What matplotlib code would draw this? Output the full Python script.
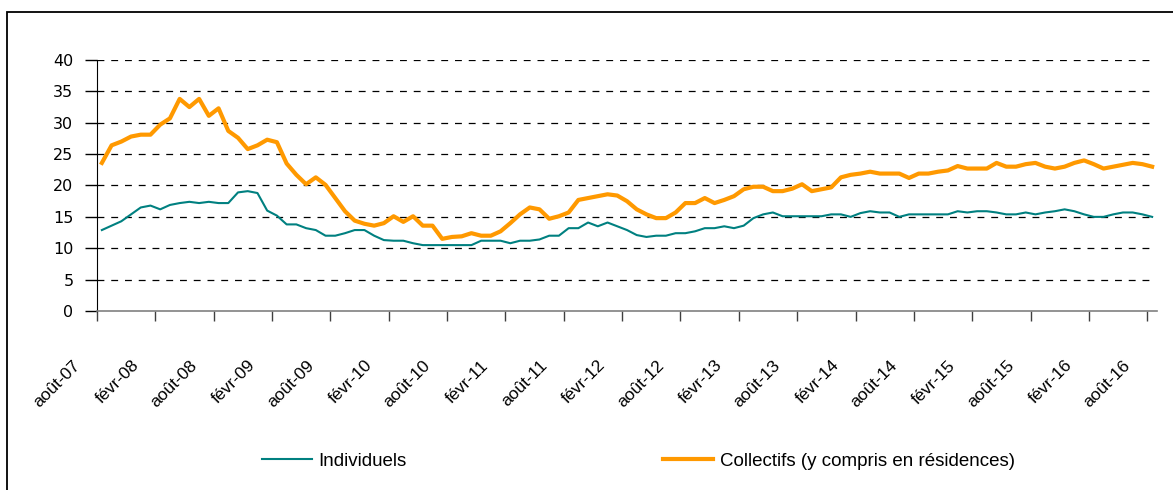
import matplotlib
matplotlib.use("Agg")
import matplotlib.pyplot as plt
from matplotlib.patches import Rectangle
from matplotlib.transforms import ScaledTranslation, blended_transform_factory

# monthly values, août-07 .. août-16
individuels = [
    12.9, 13.6, 14.3, 15.4, 16.5, 16.8, 16.2, 16.9, 17.2, 17.4,
    17.2, 17.4, 17.2, 17.2, 18.9, 19.1, 18.8, 16.0, 15.2, 13.8,
    13.8, 13.2, 12.9, 12.0, 12.0, 12.4, 12.9, 12.9, 12.0, 11.3,
    11.2, 11.2, 10.8, 10.5, 10.5, 10.5, 10.5, 10.5, 10.5, 11.2,
    11.2, 11.2, 10.8, 11.2, 11.2, 11.4, 12.0, 12.0, 13.2, 13.2,
    14.1, 13.5, 14.1, 13.5, 12.9, 12.1, 11.8, 12.0, 12.0, 12.4,
    12.4, 12.7, 13.2, 13.2, 13.5, 13.2, 13.6, 14.8, 15.4, 15.7,
    15.1, 15.1, 15.1, 15.1, 15.1, 15.4, 15.4, 15.0, 15.6, 15.9,
    15.7, 15.7, 15.0, 15.4, 15.4, 15.4, 15.4, 15.4, 15.9, 15.7,
    15.9, 15.9, 15.7, 15.4, 15.4, 15.7, 15.4, 15.7, 15.9, 16.2,
    15.9, 15.4, 15.0, 15.0, 15.4, 15.7, 15.7, 15.4, 15.0,
]
collectifs = [
    23.6, 26.4, 27.0, 27.8, 28.1, 28.1, 29.7, 30.7, 33.8, 32.5,
    33.8, 31.1, 32.3, 28.7, 27.6, 25.8, 26.4, 27.3, 26.9, 23.5,
    21.7, 20.2, 21.3, 20.1, 18.0, 15.9, 14.4, 13.9, 13.6, 14.0,
    15.1, 14.2, 15.1, 13.6, 13.6, 11.5, 11.8, 11.9, 12.4, 12.0,
    12.0, 12.7, 14.0, 15.4, 16.5, 16.2, 14.7, 15.1, 15.7, 17.7,
    18.0, 18.3, 18.6, 18.4, 17.5, 16.2, 15.4, 14.8, 14.8, 15.7,
    17.2, 17.2, 18.0, 17.2, 17.7, 18.3, 19.4, 19.8, 19.8, 19.1,
    19.1, 19.5, 20.2, 19.1, 19.4, 19.7, 21.3, 21.7, 21.9, 22.2,
    21.9, 21.9, 21.9, 21.2, 21.9, 21.9, 22.2, 22.4, 23.1, 22.7,
    22.7, 22.7, 23.6, 23.0, 23.0, 23.4, 23.6, 23.0, 22.7, 23.0,
    23.6, 24.0, 23.4, 22.7, 23.0, 23.3, 23.6, 23.4, 23.0,
]
tick_labels = [
    "août-07", "févr-08", "août-08", "févr-09", "août-09", "févr-10",
    "août-10", "févr-11", "août-11", "févr-12", "août-12", "févr-13",
    "août-13", "févr-14", "août-14", "févr-15", "août-15", "févr-16",
    "août-16",
]
yticks = [0, 5, 10, 15, 20, 25, 30, 35, 40]

W, H = 1173, 490
fig = plt.figure(figsize=(W / 100, H / 100), dpi=100)
ax = fig.add_axes([97 / W, 1 - 311 / H, (1157 - 97) / W, (311 - 60) / H])

n = len(collectifs)
x = range(n)
ax.plot(x, individuels, color="#008080", lw=1.5, label="Individuels", zorder=3)
ax.plot(x, collectifs, color="#FF9900", lw=3.0,
        label="Collectifs (y compris en résidences)", zorder=4)

ax.set_xlim(-0.5, n - 0.5)
ax.set_ylim(0, 40)
ax.set_yticks(yticks)
ax.set_yticklabels([str(v) for v in yticks], fontsize=11.5, family="DejaVu Sans")

for v in yticks[1:]:
    ax.plot([-0.5, n - 1], [v, v], color="black", lw=0.9,
            dashes=(5.5, 5.5), zorder=1)

# x labels drawn by hand, Excel puts them below and left of the tick
xt = [-0.5 + 6 * k for k in range(len(tick_labels))]
ax.set_xticks(xt)
ax.set_xticklabels([])
trans = blended_transform_factory(ax.transData, ax.transAxes) + \
    ScaledTranslation(-19 / 100, -52 / 100, fig.dpi_scale_trans)
for xv, lab in zip(xt, tick_labels):
    ax.text(xv, 0, lab, transform=trans, rotation=45, ha="right", va="center",
            rotation_mode="anchor", fontsize=12.5, family="Liberation Sans",
            clip_on=False)

ax.tick_params(axis="y", direction="out", length=9, width=1, pad=8, colors="black")
ax.tick_params(axis="x", direction="out", length=7, width=1, color="#404040")
for s in ["top", "right"]:
    ax.spines[s].set_visible(False)
ax.spines["left"].set_color("black")
ax.spines["bottom"].set_color("#808080")
ax.spines["bottom"].set_linewidth(1.2)

fig.legend(loc="center left", bbox_to_anchor=(262 / W, 1 - 461 / H), ncol=2,
           frameon=False, borderpad=0, borderaxespad=0, handlelength=2.67,
           handletextpad=0.33, columnspacing=13.7,
           prop={"family": "Liberation Sans", "size": 13.5})

fig.add_artist(Rectangle((7 / W, -0.05), 1.1, 1 - 12 / H + 0.05,
                         transform=fig.transFigure, fill=False,
                         edgecolor="black", lw=1.3))

plt.savefig("out.png", dpi=100)
